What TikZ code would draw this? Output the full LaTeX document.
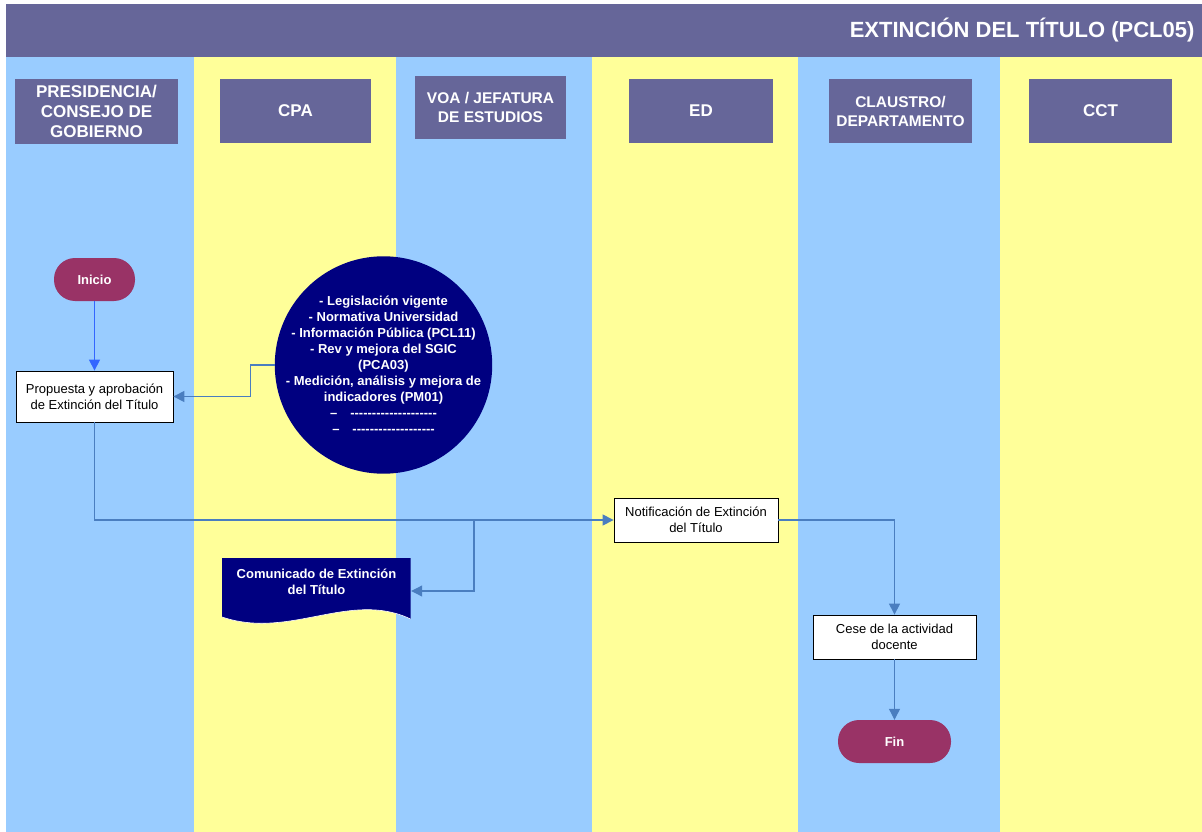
\documentclass[tikz,border=0pt]{standalone}
\usepackage{fontspec}
\setmainfont{Liberation Sans}
\usetikzlibrary{arrows.meta}

\definecolor{headcol}{HTML}{666699}
\definecolor{lanebl}{HTML}{99CCFF}
\definecolor{laneye}{HTML}{FFFF99}
\definecolor{navybox}{HTML}{000080}
\definecolor{termcol}{HTML}{993366}
\definecolor{flowcol}{HTML}{4A7EC0}
\definecolor{flowbright}{HTML}{3366FF}

% a row of plain hyphens (no en-dash ligature)
\newcommand\dashrun[1]{\foreach \k in {1,...,#1}{-\kern0pt}}

\tikzset{
  lanehead/.style={fill=headcol, text=white, align=center, inner sep=0pt,
    font=\bfseries\fontsize{17}{20}\selectfont},
  task/.style={draw=black, fill=white, align=center, inner sep=0pt, line width=0.8pt,
    font=\fontsize{13}{16}\selectfont},
  term/.style={fill=termcol, text=white, rounded corners=21pt, inner sep=0pt,
    minimum height=43pt, font=\bfseries\fontsize{13}{16}\selectfont},
  flow/.style={draw=flowcol, line width=1.1pt, -{Triangle[length=11pt,width=11pt]}},
  flowb/.style={flow, draw=flowbright, line width=1.3pt}
}

\begin{document}
\begin{tikzpicture}[x=1pt,y=-1pt]
			\fill[white] (0,0) rectangle (1202,832);
			\useasboundingbox (0,0) rectangle (1202,832);
			% swimlanes
			\def\lanes {6/194/lanebl, 194/396/laneye, 396/592/lanebl,
      592/798/laneye, 798/1000/lanebl, 1000/1202/laneye}  % list elements
			\foreach \xa/\xb/\col in \lanes
			{	\fill[\col] (\xa,57) rectangle (\xb,832);
			}
			\fill[headcol] (6,4) rectangle (1202,57);
			\node[text=white, anchor=east, font=\bfseries\fontsize{22}{26}\selectfont] (title) at (1198,30.5) {EXTINCIÓN DEL TÍTULO (PCL05)};
			%
			\node[lanehead, minimum width=163pt, minimum height=65pt] (h1) at (96.5,111.5) {PRESIDENCIA/\\CONSEJO DE\\GOBIERNO};
			\node[lanehead, minimum width=151pt, minimum height=64pt] (h2) at (295.5,111) {CPA};
			\node[lanehead, minimum width=151pt, minimum height=63pt, font=\bfseries\fontsize{15.5}{18.5}\selectfont] (h3) at (490.5,107.5) {VOA / JEFATURA\\DE ESTUDIOS};
			\node[lanehead, minimum width=144pt, minimum height=64pt] (h4) at (701,111) {ED};
			\node[lanehead, minimum width=143pt, minimum height=64pt, font=\bfseries\fontsize{15.5}{19}\selectfont] (h5) at (900.5,111) {CLAUSTRO/\\DEPARTAMENTO};
			\node[lanehead, minimum width=143pt, minimum height=64pt] (h6) at (1100.5,111) {CCT};
			%
			\node[term, minimum width=81pt] (inicio) at (94.5,279.5) {Inicio};
			\node[task, minimum width=157pt, minimum height=51pt] (propuesta) at (94.5,396.5) {Propuesta y aprobación\\de Extinción del Título};
			\node[circle, fill=navybox, text=white, inner sep=-7.5pt, align=center,
			  font=\bfseries\fontsize{13}{16}\selectfont] (entradas) at (383.5,365)
			  {- Legislación vigente\\- Normativa Universidad\\- Información Pública (PCL11)\\- Rev y mejora del SGIC\\(PCA03)\\- Medición, análisis y mejora de\\indicadores (PM01)\\–\quad\dashrun{20}\\–\quad\dashrun{19}};
			\node[task, minimum width=164pt, minimum height=44pt] (notificacion) at (696,520) {Notificación de Extinción\\del Título};
			% document shape
			\fill[navybox] (222,558) -- (410.5,558) -- (410.5,619) .. controls (350,590) and (290,640) .. (222,617) -- cycle;
			\draw[white, line width=0.6pt] (410.5,619) .. controls (350,590) and (290,640) .. (222,617);
			\node[text=white, align=center, minimum width=189pt, inner sep=0pt,
			  font=\bfseries\fontsize{13}{16}\selectfont] (comunicado) at (316.5,582) {Comunicado de Extinción\\del Título};
			\node[task, minimum width=163pt, minimum height=44pt] (cese) at (894.5,637) {Cese de la actividad\\docente};
			\node[term, minimum width=113pt] (fin) at (894.5,741.5) {Fin};
			%
			\coordinate (split) at (474,520);
			\draw[flowb] (inicio) -- (propuesta);
			\draw[flow] (entradas.west) -- ++(-24,0) |- (propuesta.east);
			\draw[flow] (propuesta.south) |- (notificacion.west);
			\draw[flow] (split) |- ([yshift=-9pt]comunicado.east);
			\draw[flow] (notificacion.east) -| (cese.north);
			\draw[flow] (cese) -- (fin);
		\end{tikzpicture}
\end{document}
